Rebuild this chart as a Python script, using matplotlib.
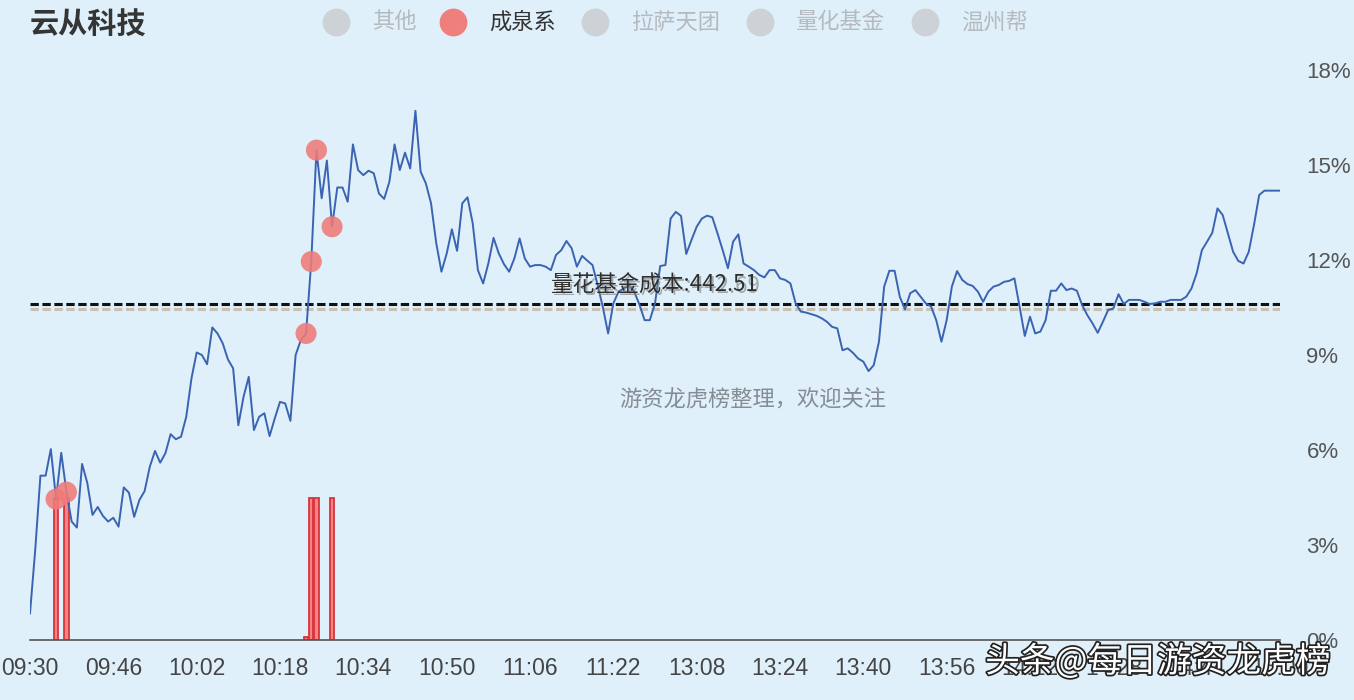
import matplotlib
matplotlib.use("Agg")
import matplotlib.pyplot as plt
import matplotlib.patheffects as pe
from matplotlib.lines import Line2D

plt.rcParams['font.family'] = ['Noto Sans CJK SC', 'DejaVu Sans']
plt.rcParams['lines.scale_dashes'] = False

# ---------------- data ----------------
title = "云从科技"
legend_names = ["其他", "成泉系", "拉萨天团", "量化基金", "温州帮"]
legend_active = [False, True, False, False, False]

morning = [f"{h:02d}:{m:02d}" for h in (9, 10, 11) for m in range(60)
           if (h, m) >= (9, 30) and (h, m) <= (11, 30)]
afternoon = [f"{h:02d}:{m:02d}" for h in (13, 14, 15) for m in range(60)
             if (h, m) >= (13, 1) and (h, m) <= (15, 0)]
times = morning + afternoon

tick_labels = ["09:30", "09:46", "10:02", "10:18", "10:34", "10:50", "11:06", "11:22",
               "13:08", "13:24", "13:40", "13:56", "14:12", "14:28", "14:44", "15:00"]

pct = [0.84, 2.84, 5.19, 5.19, 6.03, 4.45, 5.91, 4.67, 3.74, 3.55,
       5.56, 4.96, 3.95, 4.20, 3.92, 3.74, 3.86, 3.58, 4.82, 4.65,
       3.89, 4.42, 4.70, 5.47, 5.97, 5.60, 5.90, 6.50, 6.34, 6.42,
       7.05, 8.26, 9.08, 9.00, 8.71, 9.87, 9.68, 9.37, 8.86, 8.58,
       6.78, 7.68, 8.31, 6.63, 7.05, 7.16, 6.44, 7.00, 7.52, 7.47,
       6.92, 9.00, 9.47, 9.68, 11.95, 15.47, 13.95, 15.14, 13.05, 14.29,
       14.29, 13.84, 15.65, 14.84, 14.68, 14.82, 14.74, 14.10, 13.93, 14.47,
       15.65, 14.84, 15.39, 14.89, 16.71, 14.79, 14.42, 13.79, 12.53, 11.63,
       12.20, 12.97, 12.29, 13.79, 13.98, 13.16, 11.68, 11.26, 11.89, 12.70,
       12.21, 11.87, 11.63, 12.05, 12.68, 12.05, 11.79, 11.84, 11.84, 11.79,
       11.68, 12.16, 12.31, 12.60, 12.37, 11.79, 12.13, 11.98, 11.84, 11.20,
       10.50, 9.68, 10.63, 11.00, 11.10, 11.20, 11.00, 10.60, 10.10, 10.10,
       10.63, 11.81, 11.84, 13.31, 13.52, 13.39, 12.19, 12.63, 13.05, 13.31,
       13.40, 13.35, 12.84, 12.31, 11.74, 12.58, 12.81, 11.89, 11.79, 11.68,
       11.53, 11.45, 11.68, 11.68, 11.42, 11.37, 11.26, 10.63, 10.37, 10.34,
       10.29, 10.24, 10.16, 10.05, 9.89, 9.84, 9.15, 9.21, 9.07, 8.89,
       8.79, 8.49, 8.68, 9.42, 11.16, 11.66, 11.66, 10.84, 10.44, 10.95,
       11.05, 10.84, 10.63, 10.53, 10.10, 9.42, 10.10, 11.16, 11.65, 11.37,
       11.24, 11.18, 11.00, 10.68, 11.00, 11.16, 11.21, 11.31, 11.34, 11.42,
       10.53, 9.60, 10.21, 9.68, 9.74, 10.10, 11.03, 11.03, 11.26, 11.05,
       11.10, 11.03, 10.58, 10.26, 10.00, 9.70, 10.05, 10.42, 10.47, 10.92,
       10.61, 10.74, 10.74, 10.74, 10.68, 10.61, 10.63, 10.68, 10.68, 10.74,
       10.74, 10.74, 10.84, 11.10, 11.58, 12.31, 12.58, 12.86, 13.63, 13.42,
       12.84, 12.26, 11.97, 11.89, 12.26, 13.10, 14.05, 14.19, 14.19, 14.19,
       14.19]

# 成泉系 trades: dot positions (time) and bar heights
dot_times = ["09:35", "09:37", "10:23", "10:24", "10:25", "10:28"]
bar_times = ["09:35", "09:37", "10:23", "10:24", "10:25", "10:28"]
bar_values = [4.5, 4.5, 0.1, 4.5, 4.5, 4.5]

cost_main = 10.61
cost_shadow = 10.44
cost_label = "量花基金成本:442.51"
cost_label2 = "量化基金成本:442.69"

y_ticks = [0, 3, 6, 9, 12, 15, 18]
y_tick_labels = ["0%", "3%", "6%", "9%", "12%", "15%", "18%"]

# ---------------- figure ----------------
W, H = 1354, 700
bg = "#dff0fa"
fig = plt.figure(figsize=(W / 100, H / 100), dpi=100, facecolor=bg)
ax = fig.add_axes([30 / W, (H - 640) / H, 1250 / W, 570 / H], facecolor=bg)

x = list(range(len(times)))
idx = {t: i for i, t in enumerate(times)}

# bars
ax.bar([idx[t] for t in bar_times], bar_values, width=0.85,
       facecolor="#f58383", edgecolor="#d8343c", linewidth=1.3, zorder=2)

# cost lines
ax.axhline(cost_shadow, color="#c9c1b2", lw=2.2, ls=(0, (6, 2.6)), zorder=1)
ax.axhline(cost_main, color="#111111", lw=2.2, ls=(0, (6, 2.6)), zorder=3)

# price line
ax.plot(x, pct, color="#3a63b2", lw=1.4, zorder=4)

# dots
ax.scatter([idx[t] for t in dot_times], [pct[idx[t]] for t in dot_times],
           s=230, color="#f07a78", alpha=0.88, edgecolors="none", zorder=5)

ax.set_xlim(0, len(times) - 1)
ax.set_ylim(0, 18)
ax.set_yticks(y_ticks)
ax.set_yticklabels(y_tick_labels, fontfamily=["Liberation Sans", "DejaVu Sans"])
ax.yaxis.tick_right()
ax.tick_params(axis="y", length=0, pad=19, labelsize=16, labelcolor="#555555")
tick_pos = [idx[t] for t in tick_labels]
ax.set_xticks(tick_pos)
ax.set_xticklabels(tick_labels, fontfamily=["Liberation Sans", "DejaVu Sans"])
ax.tick_params(axis="x", length=0, pad=12, labelsize=16.5, labelcolor="#444444")
for s in ["top", "right", "left"]:
    ax.spines[s].set_visible(False)
ax.spines["bottom"].set_color("#555555")
ax.spines["bottom"].set_linewidth(1.2)

# cost label (slightly doubled, as in reference)
ax.text(120.4, 11.15, cost_label2, ha="center", va="center", fontsize=16,
        color="#8a8a8a", alpha=0.7, zorder=6)
ax.text(120, 11.2, cost_label, ha="center", va="center", fontsize=16,
        color="#2f2f2f", zorder=6)

# title & legend (pixel layout)
def fx(px):
    return px / W

def fy(py):
    return 1 - py / H

fig.text(fx(30), fy(25), title, fontsize=21, fontweight="bold", color="#353535",
         va="center", ha="left")
legend_circle_x = [336, 453, 595, 760, 925]
for name, act, cx in zip(legend_names, legend_active, legend_circle_x):
    fig.add_artist(Line2D([fx(cx)], [fy(22)], marker="o", markersize=19,
                          color="#ef7f7d" if act else "#cdd2d6", linestyle="none",
                          transform=fig.transFigure))
    fig.text(fx(cx + 36), fy(22), name, fontsize=16, va="center", ha="left",
             color="#333333" if act else "#b5babe")

# watermarks
fig.text(fx(753), fy(400), "游资龙虎榜整理，欢迎关注", fontsize=16, color="#858c93",
         ha="center", va="center")
fig.text(fx(1158), fy(662), "头条@每日游资龙虎榜", fontsize=25, color="white",
         ha="center", va="center",
         path_effects=[pe.withStroke(linewidth=2.5, foreground="#222222")])

fig.savefig("out.png", dpi=100, facecolor=bg)
